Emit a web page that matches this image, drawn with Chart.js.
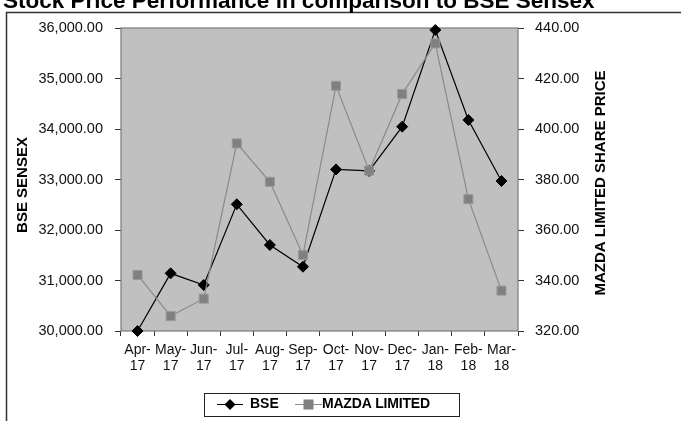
<!DOCTYPE html>
<html>
<head>
<meta charset="utf-8">
<title>Stock Price Performance</title>
<script src="https://cdn.jsdelivr.net/npm/chart.js"></script>
<style>
  html, body { margin: 0; padding: 0; background: #fff; overflow: hidden; }
  #wrap { position: relative; width: 681px; height: 421px; }
</style>
</head>
<body>
<div id="wrap"><canvas id="stockChart" width="681" height="421"></canvas></div>
<script>
    const chartTitle = 'Stock Price Performance in comparison to BSE Sensex';
    const months = [
        ['Apr-', '17'], ['May-', '17'], ['Jun-', '17'], ['Jul-', '17'],
        ['Aug-', '17'], ['Sep-', '17'], ['Oct-', '17'], ['Nov-', '17'],
        ['Dec-', '17'], ['Jan-', '18'], ['Feb-', '18'], ['Mar-', '18']
    ];
    const bseValues = [30000, 31142, 30911, 32509, 31703, 31273, 33200, 33170, 34046, 35960, 34178, 32970];
    const mazdaValues = [342.2, 325.9, 332.8, 394.3, 379.1, 350.1, 417.1, 383.5, 413.9, 433.9, 372.2, 336.0];
    const bseTicks = [30000, 31000, 32000, 33000, 34000, 35000, 36000];
    const mazdaTicks = [320, 340, 360, 380, 400, 420, 440];
    const leftTitle = 'BSE SENSEX';
    const rightTitle = 'MAZDA LIMITED SHARE PRICE';

    const FONT = 'Arial, "Liberation Sans", sans-serif';

    function setTicks(values) {
        return function (scale) {
            scale.ticks = values.map(v => ({ value: v }));
        };
    }

    // frame, title, plot background, axis titles and legend
    const decorPlugin = {
        id: 'decor',
        beforeDraw(chart) {
            const ctx = chart.ctx;
            const a = chart.chartArea;
            ctx.save();
            ctx.fillStyle = '#fff';
            ctx.fillRect(0, 0, chart.width, chart.height);
            ctx.strokeStyle = '#333';
            ctx.lineWidth = 1.5;
            ctx.strokeRect(6.5, 12.5, 760, 500);
            ctx.fillStyle = '#000';
            ctx.font = 'bold 22.5px ' + FONT;
            ctx.textBaseline = 'alphabetic';
            ctx.textAlign = 'left';
            ctx.fillText(chartTitle, 3, 8);
            ctx.fillStyle = '#c0c0c0';
            ctx.fillRect(a.left, a.top, a.right - a.left, a.bottom - a.top);
            ctx.restore();
        },
        beforeDatasetsDraw(chart) {
            const ctx = chart.ctx;
            const a = chart.chartArea;
            ctx.save();
            ctx.strokeStyle = '#7a7a7a';
            ctx.lineWidth = 1.2;
            ctx.strokeRect(a.left, a.top, a.right - a.left, a.bottom - a.top);
            ctx.restore();
        },
        afterDraw(chart) {
            const ctx = chart.ctx;
            ctx.save();
            ctx.fillStyle = '#000';
            ctx.font = 'bold 15px ' + FONT;
            ctx.textAlign = 'center';
            ctx.textBaseline = 'middle';
            ctx.translate(22.5, 185);
            ctx.rotate(-Math.PI / 2);
            ctx.fillText(leftTitle, 0, 0);
            ctx.restore();

            ctx.save();
            ctx.fillStyle = '#000';
            ctx.font = 'bold 15px ' + FONT;
            ctx.textAlign = 'center';
            ctx.textBaseline = 'middle';
            ctx.translate(600.5, 183);
            ctx.rotate(-Math.PI / 2);
            ctx.fillText(rightTitle, 0, 0);
            ctx.restore();

            // legend
            ctx.save();
            ctx.fillStyle = '#fff';
            ctx.fillRect(204, 393, 255, 23);
            ctx.strokeStyle = '#222';
            ctx.lineWidth = 1;
            ctx.strokeRect(204.5, 393.5, 255, 23);
            const ly = 404.5;
            ctx.strokeStyle = '#000';
            ctx.beginPath();
            ctx.moveTo(217, ly); ctx.lineTo(243, ly);
            ctx.stroke();
            ctx.fillStyle = '#000';
            ctx.beginPath();
            ctx.moveTo(230, ly - 5.5); ctx.lineTo(235.5, ly);
            ctx.lineTo(230, ly + 5.5); ctx.lineTo(224.5, ly);
            ctx.closePath();
            ctx.fill();
            ctx.strokeStyle = '#8a8a8a';
            ctx.beginPath();
            ctx.moveTo(295, ly); ctx.lineTo(322, ly);
            ctx.stroke();
            ctx.fillStyle = '#808080';
            ctx.fillRect(303.5, ly - 5, 10, 10);
            ctx.fillStyle = '#000';
            ctx.font = 'bold 14px ' + FONT;
            ctx.textAlign = 'left';
            ctx.textBaseline = 'middle';
            ctx.fillText('BSE', 250, ly);
            ctx.letterSpacing = '-0.2px';
            ctx.fillText('MAZDA LIMITED', 322, ly);
            ctx.restore();
        }
    };

    new Chart(document.getElementById('stockChart').getContext('2d'), {
        type: 'line',
        data: {
            labels: months,
            datasets: [
                {
                    label: 'BSE',
                    data: bseValues,
                    yAxisID: 'yBse',
                    borderColor: '#000',
                    borderWidth: 1.2,
                    pointStyle: 'rectRot',
                    pointRadius: 5.5,
                    pointBackgroundColor: '#000',
                    pointBorderColor: '#000',
                    pointBorderWidth: 1,
                    tension: 0,
                    clip: false,
                    order: 2
                },
                {
                    label: 'MAZDA LIMITED',
                    data: mazdaValues,
                    yAxisID: 'yMazda',
                    borderColor: '#8a8a8a',
                    borderWidth: 1.2,
                    pointStyle: 'rect',
                    pointRadius: 6.4,
                    pointBackgroundColor: '#808080',
                    pointBorderColor: '#999',
                    pointBorderWidth: 1,
                    tension: 0,
                    clip: false,
                    order: 1
                }
            ]
        },
        options: {
            responsive: false,
            animation: false,
            layout: { padding: { top: 28, bottom: 0, left: 0, right: 0 } },
            plugins: {
                legend: { display: false },
                tooltip: { enabled: false }
            },
            scales: {
                x: {
                    offset: true,
                    afterFit(scale) { scale.height = 90; },
                    border: { display: false },
                    grid: {
                        offset: true,
                        drawOnChartArea: false,
                        drawTicks: true,
                        tickLength: 5,
                        color: '#333'
                    },
                    ticks: {
                        autoSkip: false,
                        maxRotation: 0,
                        minRotation: 0,
                        padding: 6,
                        color: '#111',
                        font: { family: FONT, size: 14, lineHeight: '16px' }
                    }
                },
                yBse: {
                    position: 'left',
                    min: bseTicks[0],
                    max: bseTicks[bseTicks.length - 1],
                    afterBuildTicks: setTicks(bseTicks),
                    afterFit(scale) { scale.width = 121; },
                    border: { display: false },
                    grid: {
                        drawOnChartArea: false,
                        drawTicks: true,
                        tickLength: 6,
                        color: '#333'
                    },
                    ticks: {
                        padding: 12,
                        color: '#111',
                        font: { family: FONT, size: 14.5 },
                        callback: v => v.toLocaleString('en-US', { minimumFractionDigits: 2, maximumFractionDigits: 2 })
                    }
                },
                yMazda: {
                    position: 'right',
                    min: mazdaTicks[0],
                    max: mazdaTicks[mazdaTicks.length - 1],
                    afterBuildTicks: setTicks(mazdaTicks),
                    afterFit(scale) { scale.width = 163; },
                    border: { display: false },
                    grid: {
                        drawOnChartArea: false,
                        drawTicks: true,
                        tickLength: 6,
                        color: '#333'
                    },
                    ticks: {
                        padding: 11,
                        color: '#111',
                        font: { family: FONT, size: 14.5 },
                        callback: v => v.toFixed(2)
                    }
                }
            }
        },
        plugins: [decorPlugin]
    });
</script>
</body>
</html>
